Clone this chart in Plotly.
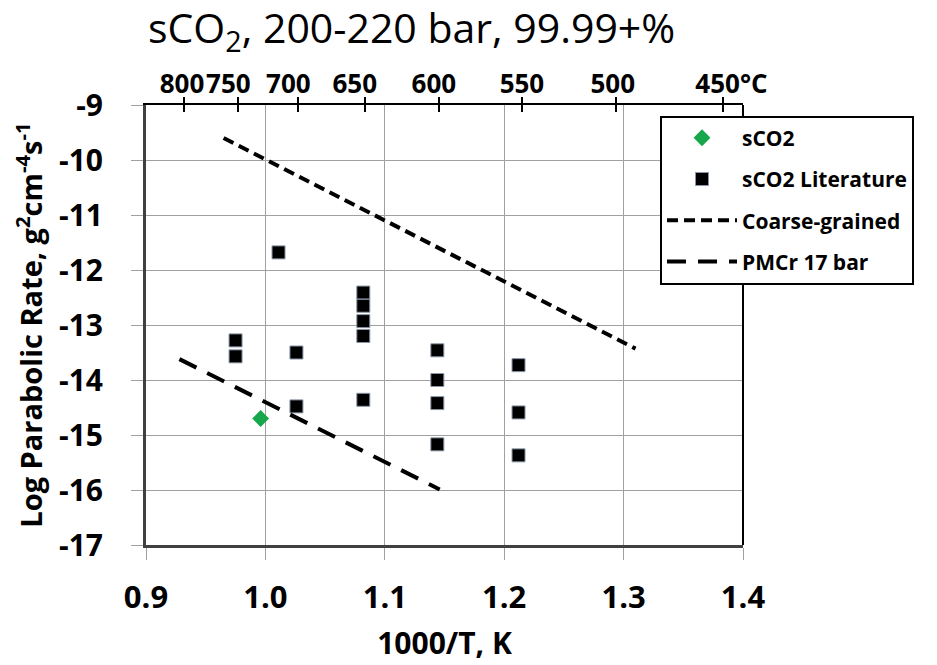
import plotly.graph_objects as go

# ---- data ----
sco2_x = [0.996]
sco2_y = [-14.70]

lit_x = [0.975, 0.975, 1.011, 1.026, 1.026,
         1.082, 1.082, 1.082, 1.082, 1.082,
         1.144, 1.144, 1.144, 1.144,
         1.212, 1.212, 1.212]
lit_y = [-13.28, -13.57, -11.68, -13.50, -14.48,
         -12.41, -12.65, -12.93, -13.20, -14.36,
         -13.46, -14.00, -14.42, -15.17,
         -13.73, -14.59, -15.37]

coarse_x = [0.965, 1.310]
coarse_y = [-9.60, -13.43]

pmcr_x = [0.928, 1.146]
pmcr_y = [-13.62, -15.99]

temps_c = [800, 750, 700, 650, 600, 550, 500, 450]
temp_labels = ["800", "750", "700", "650", "600", "550", "500", "450°C"]

x_ticks = [0.9, 1.0, 1.1, 1.2, 1.3, 1.4]
x_labels = ["0.9", "1.0", "1.1", "1.2", "1.3", "1.4"]
y_ticks = [-9, -10, -11, -12, -13, -14, -15, -16, -17]
y_labels = ["-9", "-10", "-11", "-12", "-13", "-14", "-15", "-16", "-17"]

# ---- style ----
FONT = "Open Sans"
OFF = 8  # page body margin
PLOT_W = 597  # plot-area width in px
X_RANGE = [0.9, 1.4]
# small pixel nudges of the top labels, as laid out in the original slide
label_nudge_px = [-2, -10, -10, -10, -5, 0, -3, 9]

top_pos = [1000.0 / (t + 273.15) for t in temps_c]
px_to_x = (X_RANGE[1] - X_RANGE[0]) / PLOT_W
top_label_pos = [p + n * px_to_x for p, n in zip(top_pos, label_nudge_px)]

fig = go.Figure()
fig.add_trace(go.Scatter(x=sco2_x, y=sco2_y, mode="markers", name="sCO2",
                         legendgroup="a",
                         marker=dict(symbol="diamond", size=13, color="#16a64c")))
fig.add_trace(go.Scatter(x=lit_x, y=lit_y, mode="markers", name="sCO2 Literature",
                         legendgroup="b",
                         marker=dict(symbol="square", size=13, color="black",
                                     line=dict(color="#8a96a8", width=1))))
fig.add_trace(go.Scatter(x=coarse_x, y=coarse_y, mode="lines", name="Coarse-grained",
                         legendgroup="c",
                         line=dict(color="black", width=4, dash="11px,6px")))
fig.add_trace(go.Scatter(x=pmcr_x, y=pmcr_y, mode="lines", name="PMCr 17 bar",
                         legendgroup="d",
                         line=dict(color="black", width=4, dash="19px,12px")))
# invisible traces so the top temperature axes are drawn
for ax in ["x2", "x3", "x4"]:
    fig.add_trace(go.Scatter(x=top_pos, y=[None] * len(temps_c), xaxis=ax,
                             mode="markers", showlegend=False, hoverinfo="skip"))

top_common = dict(range=X_RANGE, overlaying="x", side="top", showgrid=False,
                  zeroline=False, automargin=False)

fig.update_layout(
    width=937 - OFF, height=665 - OFF,
    margin=dict(l=146 - OFF, r=194, t=105 - OFF, b=120, autoexpand=False),
    paper_bgcolor="white", plot_bgcolor="white",
    font=dict(family=FONT, color="black"),
    xaxis=dict(range=X_RANGE, tickvals=x_ticks, ticktext=x_labels,
               showgrid=True, gridcolor="#a0a0a0", gridwidth=1,
               showline=True, linecolor="#404040", linewidth=3,
               ticks="outside", ticklen=12, tickcolor="#a0a0a0", tickwidth=1,
               ticklabelstandoff=11, tickangle=0,
               tickfont=dict(size=31, family=FONT, weight="bold"),
               title=dict(text="<b>1000/T, K</b>", font=dict(size=30, family=FONT),
                          standoff=17),
               zeroline=False, automargin=False),
    # top labels (no tick marks)
    xaxis2=dict(**top_common, tickvals=top_label_pos, ticktext=temp_labels,
                showline=True, linecolor="black", linewidth=2,
                ticks="", ticklabelstandoff=0, tickangle=0,
                tickfont=dict(size=26, family=FONT, weight="bold")),
    # top tick marks, outer half
    xaxis3=dict(**top_common, tickvals=top_pos, showticklabels=False,
                showline=False, ticks="outside", ticklen=7,
                tickcolor="black", tickwidth=2),
    # top tick marks, inner half
    xaxis4=dict(**top_common, tickvals=top_pos, showticklabels=False,
                showline=False, ticks="inside", ticklen=7,
                tickcolor="black", tickwidth=2),
    yaxis=dict(range=[-17, -9], tickvals=y_ticks, ticktext=y_labels,
               showgrid=True, gridcolor="#a0a0a0", gridwidth=1,
               showline=True, linecolor="#404040", linewidth=3,
               ticks="outside", ticklen=12, tickcolor="#a0a0a0", tickwidth=1,
               ticklabelstandoff=22,
               tickfont=dict(size=30, family=FONT, weight="bold"),
               title=dict(text="<b>Log Parabolic Rate, g<sup>2</sup>cm<sup>-4</sup>s<sup>-1</sup></b>",
                          font=dict(size=29, family=FONT), standoff=8),
               zeroline=False, automargin=False),
    legend=dict(x=0.861, y=0.976, xanchor="left", yanchor="top",
                bordercolor="black", borderwidth=2, bgcolor="white",
                font=dict(size=21, family=FONT, weight="bold"),
                tracegroupgap=11, itemwidth=70),
    shapes=[dict(type="line", xref="paper", yref="paper", x0=1, x1=1, y0=0, y1=1,
                 line=dict(color="black", width=2))],
    annotations=[dict(text="sCO<sub>2</sub>, 200-220 bar, 99.99+%", xref="paper",
                      yref="paper", x=0.0, y=1.0, yshift=76, xanchor="left",
                      yanchor="middle", showarrow=False,
                      font=dict(size=41, family=FONT, color="black"))],
)

fig.write_html("out.html")
